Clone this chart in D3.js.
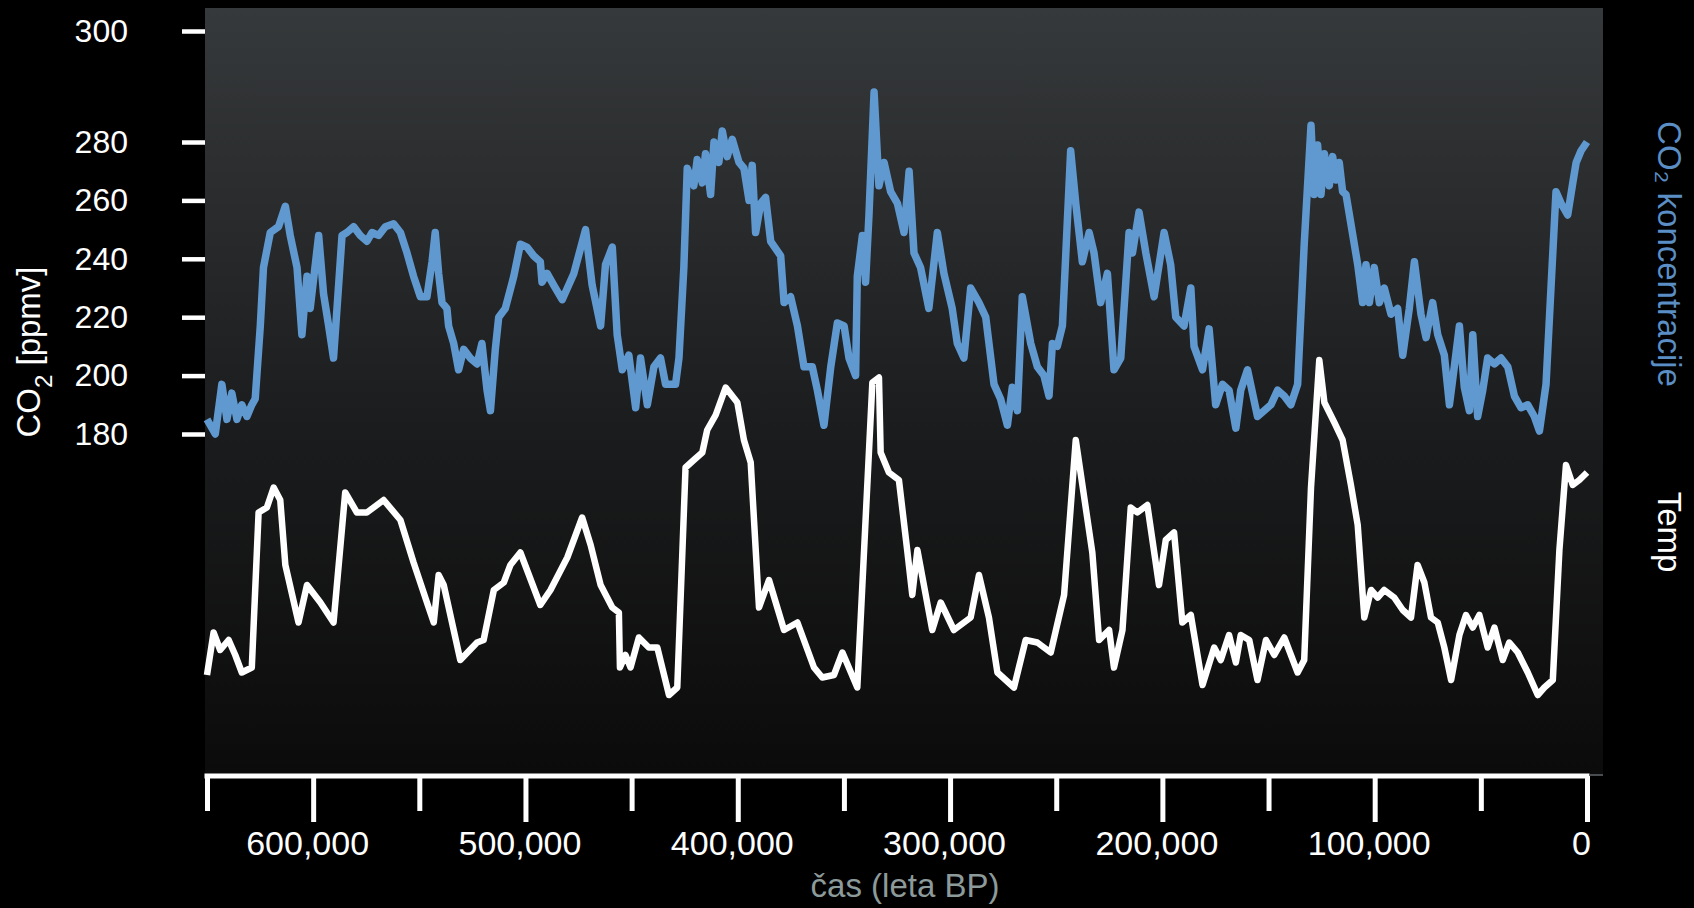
<!DOCTYPE html>
<html>
<head>
<meta charset="utf-8">
<script src="https://cdn.jsdelivr.net/npm/d3@7"></script>
<style>
    body { margin: 0; background: #000; }
    svg { display: block; }
    text { font-family: "Liberation Sans", Arial, sans-serif; }
</style>
</head>
<body>
<div id="chart"></div>
<script>
// ages in thousands of years BP, CO2 in ppmv
const co2Series = [
    [650, 185], [646.1, 180], [643, 197], [640.6, 185], [638.3, 194], [635.9, 185], [633.6, 190], [631.2, 186],
    [628.9, 190], [627.3, 192], [624.9, 217], [623.4, 237], [620.2, 249], [616.3, 251], [613.1, 258], [610.8, 248],
    [607.6, 237], [605.3, 214], [602.9, 234], [601.4, 223], [599, 238], [597.4, 248], [595.1, 228], [592.7, 217],
    [590.4, 206], [588, 231], [586.4, 248], [584.1, 249], [580.9, 251], [577.8, 248], [574.7, 246], [572.3, 249],
    [569.2, 248], [566, 251], [562.1, 252], [558.9, 249], [555.8, 242], [552.7, 234], [549.5, 227], [546.4, 227],
    [544, 239], [542.5, 249], [540.9, 235], [539.3, 225], [537, 223], [536.2, 217], [533.8, 211], [531.5, 202],
    [529.1, 209], [526, 206], [522.8, 204], [520.5, 211], [518.1, 195], [516.5, 188], [514.2, 209], [512.6, 220],
    [509.5, 223], [505.5, 234], [502.4, 245], [499.3, 244], [496.1, 241], [493, 239], [492.2, 232], [489.8, 235],
    [486.7, 231], [482.7, 226], [477.2, 235], [471.7, 250], [468.6, 231], [464.6, 217], [462.3, 238], [459.1, 244],
    [456.8, 214], [454.4, 202], [451.3, 207], [448.1, 189], [445.8, 206], [442.6, 190], [439.5, 203], [436.4, 206],
    [434, 197], [429.3, 197], [427.7, 206], [425.4, 237], [423.8, 271], [420.7, 265], [419.1, 274], [416.7, 266],
    [415.2, 276], [412.8, 262], [411.2, 280], [408.9, 273], [407.3, 282], [405, 275], [402.6, 280.5], [399.4, 273],
    [397.1, 271], [394.7, 260], [393.2, 272], [391.6, 249], [389.2, 259], [386.9, 261], [384.5, 246], [379.8, 241],
    [378.2, 225], [375.1, 227], [371.9, 217], [368.8, 203], [364.9, 203], [362.5, 195], [359.4, 183], [356.2, 203],
    [353.1, 218], [349.9, 217], [347.6, 206], [344.5, 200], [343.7, 234], [341.3, 248], [339.8, 232], [338.2, 255],
    [335.8, 289], [333.5, 265], [331.1, 273], [328, 263], [324.8, 259], [321.7, 249], [319.3, 270], [317, 242],
    [313.9, 237], [310, 223], [306, 249], [302.9, 235], [299, 223], [296.6, 211], [293.5, 206], [290.3, 230],
    [286.4, 225], [283.2, 220], [279.3, 197], [276.2, 192], [273, 183], [270.7, 196], [268.3, 188], [266, 227],
    [262, 211], [258.9, 203], [255.8, 200], [253.4, 193], [251.8, 211], [249.5, 210], [247.1, 217], [243.2, 277],
    [240.8, 259], [237.7, 239], [234.5, 249], [232.2, 242], [229.1, 225], [225.9, 235], [222.8, 202], [219.6, 206],
    [215.7, 249], [214.1, 242], [211, 256], [207.8, 242], [203.9, 227], [199.2, 249], [196.1, 238], [193.7, 220],
    [189.8, 217], [186.6, 230], [185.1, 210], [181.1, 202], [178, 216], [174.9, 190], [171.7, 197], [168.6, 195],
    [165.4, 182], [163.1, 195], [159.9, 202], [155.2, 186], [148.9, 190], [145.7, 195], [142.6, 193], [139.5, 190],
    [136.3, 197], [133.2, 245], [130, 283], [128.5, 262], [126.9, 279], [125.3, 262], [123.7, 276], [121.4, 265],
    [119.8, 275], [118.2, 267], [116.7, 273], [115.1, 263], [113.5, 262], [111.2, 252], [108, 238], [105.7, 225],
    [104.1, 238], [102.5, 225], [100.2, 237], [97.8, 225], [95.5, 230], [92.3, 221], [89.2, 223], [86.8, 207],
    [83.7, 223], [81.3, 239], [78.2, 221], [75.8, 213], [72.7, 225], [70.3, 214], [67.2, 207], [64.8, 190],
    [62.5, 203], [60.1, 217], [57.8, 196], [55.4, 188], [53.8, 214], [51.5, 186], [49.1, 195], [46.8, 206],
    [43.6, 204], [40.5, 206], [37.3, 203], [34.2, 193], [31.1, 189], [27.9, 190], [24.8, 186], [22.4, 181],
    [19.3, 197], [16.9, 231], [14.6, 263], [12.2, 259], [9.1, 255], [6.7, 266], [5.1, 273], [2.8, 277], [0, 280]
];

// temperature anomaly (deg C), no axis shown
const tempSeries = [
    [650, -7.8], [646.9, -6.1], [643.8, -6.8], [639.8, -6.4], [636.7, -7], [633.6, -7.7], [628.9, -7.5], [625.7, -1.3],
    [621.8, -1.1], [618.6, -0.3], [615.5, -0.8], [613.1, -3.4], [606.9, -5.7], [602.9, -4.2], [596.6, -4.9], [590.4, -5.7],
    [584.9, -0.5], [579.4, -1.3], [574.7, -1.3], [566.8, -0.8], [558.9, -1.6], [552.7, -3.3], [546.4, -4.9], [543.2, -5.7],
    [540.9, -3.8], [538.5, -4.2], [530.7, -7.2], [522.8, -6.5], [519.7, -6.4], [514.9, -4.4], [510.2, -4.1], [507.1, -3.4],
    [502.4, -2.9], [493, -5], [488.2, -4.4], [480.3, -3.1], [473.3, -1.5], [469.3, -2.6], [464.6, -4.2], [459.1, -5.1],
    [456, -5.3], [455.5, -7.5], [452.9, -7], [450.5, -7.5], [446.6, -6.3], [441.9, -6.7], [437.9, -6.7], [432.4, -8.6],
    [428.5, -8.3], [424.6, 0.5], [420.7, 0.8], [416.7, 1.1], [414.4, 2], [410.4, 2.6], [405.7, 3.7], [400.2, 3.1],
    [397.1, 1.6], [393.9, 0.7], [390, -5.1], [385.3, -4], [378.2, -6], [371.9, -5.7], [364.1, -7.5], [360.2, -7.9],
    [354.7, -7.8], [350.7, -6.9], [343.7, -8.3], [336.6, 3.9], [333.5, 4.1], [332.7, 1.1], [328.8, 0.3], [324.1, 0],
    [320.2, -2.8], [317.8, -4.6], [315.4, -2.8], [308.4, -6], [304.4, -4.9], [298.2, -6], [290.3, -5.5], [286.4, -3.8],
    [281.7, -5.5], [277.7, -7.7], [269.9, -8.3], [264.4, -6.4], [258.9, -6.5], [252.6, -6.9], [246.3, -4.6], [240.8, 1.6],
    [233, -2.9], [229.8, -6.4], [225.1, -6], [222.8, -7.5], [218.8, -6], [214.9, -1.1], [211.8, -1.3], [207.1, -1],
    [201.6, -4.2], [198.4, -2.4], [194.5, -2.1], [190.6, -5.7], [186.6, -5.4], [181.1, -8.2], [175.6, -6.7], [172.5, -7.2],
    [168.6, -6.2], [165.4, -7.3], [163.1, -6.2], [159.1, -6.4], [155.2, -8], [151.2, -6.4], [147.3, -7], [142.6, -6.3],
    [136.3, -7.7], [133.2, -7.2], [130, -0.3], [126.1, 4.8], [123.7, 3.1], [119, 2.3], [115.1, 1.6], [111.2, -0.2],
    [108, -1.8], [104.9, -5.5], [101.7, -4.4], [98.6, -4.7], [95.5, -4.4], [90.8, -4.7], [86.8, -5.2], [82.9, -5.5],
    [79.8, -3.4], [76.6, -4.1], [73.5, -5.5], [70.3, -5.7], [67.2, -6.7], [64, -8], [60.1, -6.2], [57, -5.4],
    [53.8, -5.9], [50.7, -5.4], [46.8, -6.7], [43.6, -5.9], [39.7, -7.2], [36.6, -6.5], [32.6, -6.9], [27.9, -7.7],
    [23.2, -8.6], [20.1, -8.3], [16.1, -8], [13, -2.8], [9.9, 0.6], [6.7, -0.2], [3.6, 0], [0, 0.3]
];

const co2Ticks = [180, 200, 220, 240, 260, 280, 300];
const ageMajorTicks = [600, 500, 400, 300, 200, 100, 0];
const ageMinorTicks = [650, 550, 450, 350, 250, 150, 50];

const W = 1694, H = 908;
const panel = { x: 205, y: 8, right: 1603, bottom: 776 };

const svg = d3.select("#chart")
    .append("svg")
    .attr("width", W)
    .attr("height", H);

const grad = svg.append("defs")
    .append("linearGradient")
    .attr("id", "bg")
    .attr("x1", 0).attr("y1", 0)
    .attr("x2", 0).attr("y2", 1);
grad.append("stop").attr("offset", "0%").attr("stop-color", "#36393b");
grad.append("stop").attr("offset", "55%").attr("stop-color", "#1b1c1d");
grad.append("stop").attr("offset", "100%").attr("stop-color", "#0b0b0b");

svg.append("rect")
    .attr("x", panel.x)
    .attr("y", panel.y)
    .attr("width", panel.right - panel.x)
    .attr("height", panel.bottom - panel.y)
    .attr("fill", "url(#bg)");

const x = d3.scaleLinear().domain([650, 0]).range([207, 1587]);
// the 300 tick sits off the regular spacing in the original, so piecewise
const yCo2 = d3.scaleLinear().domain([180, 280, 300]).range([434, 142, 31]);
const yTemp = d3.scaleLinear().domain([-10, 5]).range([730, 355]);

// y axis (CO2)
const yAxis = svg.append("g")
    .attr("transform", "translate(" + panel.x + ",0)")
    .call(d3.axisLeft(yCo2).tickValues(co2Ticks).tickSize(23).tickPadding(54).tickSizeOuter(0));
yAxis.select(".domain").remove();
yAxis.selectAll(".tick line").attr("stroke", "#fff").attr("stroke-width", 4.5);
yAxis.selectAll(".tick text")
    .attr("fill", "#fff")
    .style("font-size", "32px")
    .style("font-family", "'Liberation Sans', Arial, sans-serif");

// x axis (age)
const axisY = panel.bottom;
const xMajor = svg.append("g")
    .attr("transform", "translate(0," + axisY + ")")
    .call(d3.axisBottom(x).tickValues(ageMajorTicks).tickSize(46).tickFormat(d => d3.format(",")(d * 1000)));
xMajor.select(".domain").remove();
xMajor.selectAll(".tick line").attr("stroke", "#fff").attr("stroke-width", 5);
xMajor.selectAll(".tick text")
    .attr("fill", "#fff")
    .attr("y", 79)
    .attr("dy", "0")
    .attr("dx", -6)
    .style("font-size", "34px")
    .style("font-family", "'Liberation Sans', Arial, sans-serif");

const xMinor = svg.append("g")
    .attr("transform", "translate(0," + axisY + ")")
    .call(d3.axisBottom(x).tickValues(ageMinorTicks).tickSize(35).tickFormat(""));
xMinor.select(".domain").remove();
xMinor.selectAll(".tick line").attr("stroke", "#fff").attr("stroke-width", 5);

svg.append("line")
    .attr("x1", x(650) - 2.5).attr("x2", x(0) + 2.5)
    .attr("y1", axisY).attr("y2", axisY)
    .attr("stroke", "#fff")
    .attr("stroke-width", 5);
svg.append("line")
    .attr("x1", x(0) + 2.5).attr("x2", panel.right)
    .attr("y1", axisY - 1).attr("y2", axisY - 1)
    .attr("stroke", "#4a4d4f")
    .attr("stroke-width", 2);

// series
const co2Line = d3.line().x(d => x(d[0])).y(d => yCo2(d[1]));
const tempLine = d3.line().x(d => x(d[0])).y(d => yTemp(d[1]));

svg.append("path")
    .datum(co2Series)
    .attr("d", co2Line)
    .attr("fill", "none")
    .attr("stroke", "#6099cf")
    .attr("stroke-width", 7.5)
    .attr("stroke-linejoin", "round");

svg.append("path")
    .datum(tempSeries)
    .attr("d", tempLine)
    .attr("fill", "none")
    .attr("stroke", "#fff")
    .attr("stroke-width", 6.5)
    .attr("stroke-linejoin", "round");

// titles
const yTitle = svg.append("text")
    .attr("transform", "translate(40,352) rotate(-90)")
    .attr("text-anchor", "middle")
    .attr("fill", "#fff")
    .style("font-size", "33px");
yTitle.append("tspan").text("CO");
yTitle.append("tspan").attr("dy", 12).style("font-size", "24px").text("2");
yTitle.append("tspan").attr("dy", -12).text(" [ppmv]");

svg.append("text")
    .attr("x", 905)
    .attr("y", 897)
    .attr("text-anchor", "middle")
    .attr("fill", "#8c9a9a")
    .style("font-size", "33px")
    .text("čas (leta BP)");

svg.append("text")
    .attr("transform", "translate(1658,254) rotate(90)")
    .attr("text-anchor", "middle")
    .attr("fill", "#5a8ec4")
    .style("font-size", "33px")
    .text("CO₂ koncentracije");

svg.append("text")
    .attr("transform", "translate(1658,532) rotate(90)")
    .attr("text-anchor", "middle")
    .attr("fill", "#fff")
    .style("font-size", "33px")
    .text("Temp");
</script>
</body>
</html>
